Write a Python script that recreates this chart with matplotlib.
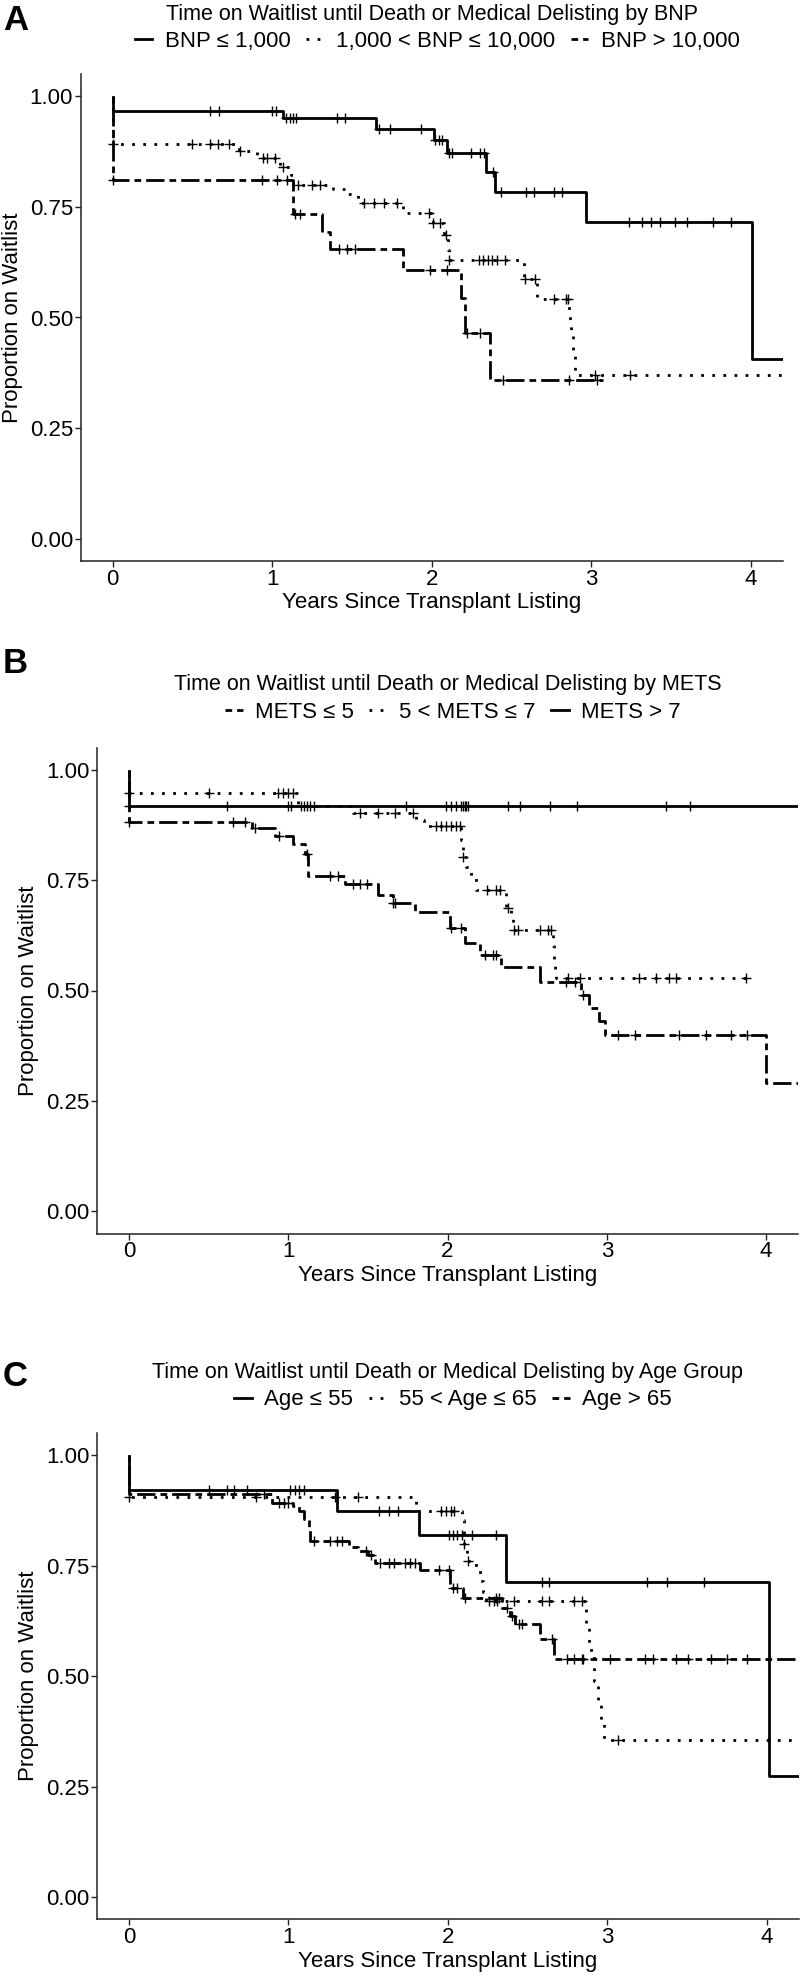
import numpy as np
import matplotlib.pyplot as plt
from matplotlib.lines import Line2D

plt.rcParams['font.family'] = ['Liberation Sans', 'DejaVu Sans']

# ---------------- data ----------------
# each curve: times where the survival steps to the value in *_s (first step at t=0 from 1.0)

# panel A - BNP
a_title = "Time on Waitlist until Death or Medical Delisting by BNP"
a_labels = ["BNP ≤ 1,000", "1,000 < BNP ≤ 10,000", "BNP > 10,000"]
a_styles = ["solid", "dotted", "twodash"]

a1_t = [0, 1.068, 1.653, 2.011, 2.095, 2.341, 2.397, 2.967, 4.004]
a1_s = [0.967, 0.950, 0.926, 0.900, 0.872, 0.829, 0.784, 0.715, 0.406]
a1_end = 4.3
a1_cens = [0.613, 0.666, 1.0, 1.027, 1.089, 1.11, 1.131, 1.152, 1.406, 1.458, 1.667, 1.74,
           1.932, 2.022, 2.043, 2.064, 2.11, 2.127, 2.245, 2.304, 2.329, 2.383, 2.433, 2.592,
           2.642, 2.763, 2.815, 3.238, 3.316, 3.372, 3.43, 3.526, 3.597, 3.76, 3.875]

a2_t = [0, 0.79, 0.906, 1.05, 1.12, 1.13, 1.38, 1.46, 1.54, 1.82, 2.005, 2.075, 2.10, 2.108,
        2.58, 2.66, 2.86, 2.865, 2.87, 2.885, 2.90]
a2_s = [0.892, 0.875, 0.860, 0.839, 0.822, 0.800, 0.790, 0.780, 0.759, 0.735, 0.713, 0.686,
        0.652, 0.631, 0.588, 0.541, 0.513, 0.487, 0.460, 0.420, 0.370]
a2_end = 4.3
a2_cens = [0, 0.50, 0.61, 0.66, 0.73, 0.80, 0.94, 0.97, 1.02, 1.07, 1.16, 1.25, 1.30, 1.573,
           1.636, 1.70, 1.78, 1.98, 2.01, 2.05, 2.09, 2.11, 2.293, 2.32, 2.35, 2.377, 2.41,
           2.46, 2.585, 2.648, 2.763, 2.84, 2.856, 3.02, 3.24]

a3_t = [0, 1.131, 1.313, 1.365, 1.82, 2.185, 2.21, 2.362]
a3_s = [0.810, 0.734, 0.694, 0.654, 0.607, 0.544, 0.464, 0.359]
a3_end = 3.07
a3_cens = [0, 0.937, 1.031, 1.094, 1.146, 1.177, 1.417, 1.469, 1.521, 1.99, 2.095, 2.22,
           2.30, 2.445, 2.86, 3.036]

# panel B - METS
b_title = "Time on Waitlist until Death or Medical Delisting by METS"
b_labels = ["METS ≤ 5", "5 < METS ≤ 7", "METS > 7"]
b_styles = ["twodash", "dotted", "solid"]

b1_t = [0, 0.771, 0.917, 1.032, 1.105, 1.126, 1.356, 1.565, 1.655, 1.794, 2.014, 2.108,
        2.202, 2.337, 2.578, 2.84, 2.89, 2.95, 2.99, 4.0]
b1_s = [0.882, 0.867, 0.850, 0.831, 0.810, 0.759, 0.741, 0.716, 0.697, 0.678, 0.641, 0.607,
        0.580, 0.554, 0.520, 0.490, 0.460, 0.430, 0.400, 0.290]
b1_end = 4.3
b1_cens = [0, 0.656, 0.729, 0.79, 0.94, 1.12, 1.262, 1.314, 1.408, 1.45, 1.492, 1.66, 1.67,
           2.024, 2.087, 2.233, 2.285, 2.306, 2.745, 2.80, 2.85, 3.07, 3.18, 3.45, 3.62,
           3.78, 3.88]

b2_t = [0, 1.063, 1.408, 1.80, 1.85, 2.087, 2.095, 2.118, 2.15, 2.177, 2.365, 2.40, 2.41,
        2.661, 2.67, 2.675, 2.68]
b2_s = [0.946, 0.917, 0.901, 0.886, 0.872, 0.840, 0.803, 0.780, 0.757, 0.727, 0.686, 0.664,
        0.637, 0.600, 0.565, 0.545, 0.528]
b2_end = 3.883
b2_cens = [0, 0.50, 0.938, 0.969, 1.0, 1.032, 1.45, 1.565, 1.67, 1.784, 1.93, 1.96, 1.99,
           2.02, 2.056, 2.077, 2.10, 2.247, 2.306, 2.327, 2.38, 2.42, 2.44, 2.578, 2.63,
           2.65, 2.755, 2.83, 3.204, 3.309, 3.392, 3.434, 3.873]

b3_t = [0]
b3_s = [0.917]
b3_end = 4.3
b3_cens = [0, 0.615, 1.0, 1.02, 1.08, 1.10, 1.12, 1.14, 1.16, 1.742, 1.993, 2.024, 2.056,
           2.087, 2.097, 2.108, 2.118, 2.128, 2.379, 2.452, 2.645, 2.811, 3.371, 3.524]

# panel C - age
c_title = "Time on Waitlist until Death or Medical Delisting by Age Group"
c_labels = ["Age ≤ 55", "55 < Age ≤ 65", "Age > 65"]
c_styles = ["solid", "dotted", "twodash"]

c1_t = [0, 1.305, 1.817, 2.368, 4.013]
c1_s = [0.921, 0.874, 0.820, 0.712, 0.275]
c1_end = 4.3
c1_cens = [0.50, 0.615, 0.66, 0.74, 1.01, 1.04, 1.07, 1.10, 1.567, 1.63, 1.69, 2.006, 2.03,
           2.06, 2.09, 2.15, 2.30, 2.59, 2.633, 3.25, 3.375, 3.605]

c2_t = [0, 1.80, 2.09, 2.10, 2.12, 2.18, 2.20, 2.22, 2.24, 2.87, 2.885, 2.90, 2.92, 2.94,
        2.96, 2.98]
c2_s = [0.906, 0.874, 0.854, 0.800, 0.760, 0.740, 0.715, 0.690, 0.670, 0.620, 0.575, 0.553,
        0.490, 0.440, 0.400, 0.356]
c2_end = 4.3
c2_cens = [0, 0.80, 1.29, 1.44, 1.96, 1.99, 2.02, 2.04, 2.105, 2.13, 2.257, 2.288, 2.31,
           2.413, 2.59, 2.633, 2.79, 2.84, 3.07]

c3_t = [0, 0.90, 1.03, 1.07, 1.10, 1.127, 1.138, 1.378, 1.44, 1.50, 1.546, 1.828, 2.016,
        2.095, 2.34, 2.393, 2.424, 2.581, 2.664]
c3_s = [0.912, 0.891, 0.885, 0.874, 0.856, 0.830, 0.805, 0.793, 0.782, 0.775, 0.756, 0.741,
        0.700, 0.677, 0.655, 0.636, 0.617, 0.583, 0.538]
c3_end = 4.3
c3_cens = [0.85, 0.94, 0.97, 1.0, 1.159, 1.263, 1.306, 1.337, 1.49, 1.52, 1.577, 1.63, 1.66,
           1.734, 1.765, 1.797, 1.943, 2.006, 2.03, 2.06, 2.11, 2.30, 2.32, 2.372, 2.40,
           2.445, 2.466, 2.654, 2.75, 2.79, 2.84, 2.85, 3.02, 3.24, 3.29, 3.43, 3.51, 3.65,
           3.75, 3.88]

# ---------------- style ----------------
W, H = 800, 1977
LW = 2.0
DASHES = {"solid": "-", "dotted": (0, (1, 3)), "twodash": (0, (2.4, 1.8, 6.6, 1.8))}

fig = plt.figure(figsize=(W / 100, H / 100), dpi=100)


def add_axes_px(left, top, right, bottom):
    return fig.add_axes([left / W, 1 - bottom / H, (right - left) / W, (bottom - top) / H])


def draw_curve(ax, t, s, end, cens, style):
    x = np.concatenate([[0], t, [end]])
    y = np.concatenate([[1.0], s, [s[-1]]])
    ax.step(x, y, where="post", color="black", lw=LW, linestyle=DASHES[style],
            dash_capstyle="butt", solid_capstyle="butt")
    idx = np.searchsorted(t, cens, side="right") - 1
    ax.plot(cens, np.array(s)[idx], linestyle="none", marker="+", ms=6.5, mew=1.0,
            color="black")


def setup_panel(ax, letter, title, labels, styles, box, letter_top, title_base, leg_cy, leg_cx):
    ax.set_xlim(-0.2, 4.2)
    ax.set_ylim(-0.05, 1.05)
    ax.set_xticks([0, 1, 2, 3, 4])
    ax.set_yticks([0, 0.25, 0.5, 0.75, 1.0])
    ax.set_yticklabels(["0.00", "0.25", "0.50", "0.75", "1.00"])
    for side in ["top", "right"]:
        ax.spines[side].set_visible(False)
    for side in ["left", "bottom"]:
        ax.spines[side].set_linewidth(1.1)
        ax.spines[side].set_color("#222222")
    ax.tick_params(length=4, width=1.0, color="#222222", labelsize=16, pad=1.5,
                   labelcolor="black")
    ax.set_xlabel("Years Since Transplant Listing", fontsize=16, labelpad=2)
    ax.set_ylabel("Proportion on Waitlist", fontsize=16, labelpad=5)

    cx = (box[0] + box[2]) / 2
    fig.text(cx / W, 1 - title_base / H, title, ha="center", va="baseline", fontsize=15.5)
    fig.text(3 / W, 1 - letter_top / H, letter, ha="left", va="top", fontsize=25,
             fontweight="bold")

    handles = [Line2D([], [], color="black", lw=LW, linestyle=DASHES[st],
                      dash_capstyle="butt") for st in styles]
    ax.legend(handles, labels, loc="center", bbox_to_anchor=(leg_cx / W, 1 - leg_cy / H),
              bbox_transform=fig.transFigure, ncol=3, frameon=False, fontsize=16,
              handlelength=0.8, handletextpad=0.55, columnspacing=0.7, borderpad=0,
              borderaxespad=0)


# ---------------- panel A ----------------
box_a = (80.6, 74, 783, 561)
ax_a = add_axes_px(*box_a)
draw_curve(ax_a, a1_t, a1_s, a1_end, a1_cens, a_styles[0])
draw_curve(ax_a, a2_t, a2_s, a2_end, a2_cens, a_styles[1])
draw_curve(ax_a, a3_t, a3_s, a3_end, a3_cens, a_styles[2])
setup_panel(ax_a, "A", a_title, a_labels, a_styles, box_a, 4, 20, 41, 437)

# ---------------- panel B ----------------
box_b = (97, 747.5, 798, 1233.5)
ax_b = add_axes_px(*box_b)
draw_curve(ax_b, b1_t, b1_s, b1_end, b1_cens, b_styles[0])
draw_curve(ax_b, b2_t, b2_s, b2_end, b2_cens, b_styles[1])
draw_curve(ax_b, b3_t, b3_s, b3_end, b3_cens, b_styles[2])
setup_panel(ax_b, "B", b_title, b_labels, b_styles, box_b, 647, 690, 712, 453)

# ---------------- panel C ----------------
box_c = (97, 1433, 798.5, 1919.3)
ax_c = add_axes_px(*box_c)
draw_curve(ax_c, c1_t, c1_s, c1_end, c1_cens, c_styles[0])
draw_curve(ax_c, c2_t, c2_s, c2_end, c2_cens, c_styles[1])
draw_curve(ax_c, c3_t, c3_s, c3_end, c3_cens, c_styles[2])
setup_panel(ax_c, "C", c_title, c_labels, c_styles, box_c, 1360, 1378, 1400, 453)

fig.savefig("out.png", dpi=100)
